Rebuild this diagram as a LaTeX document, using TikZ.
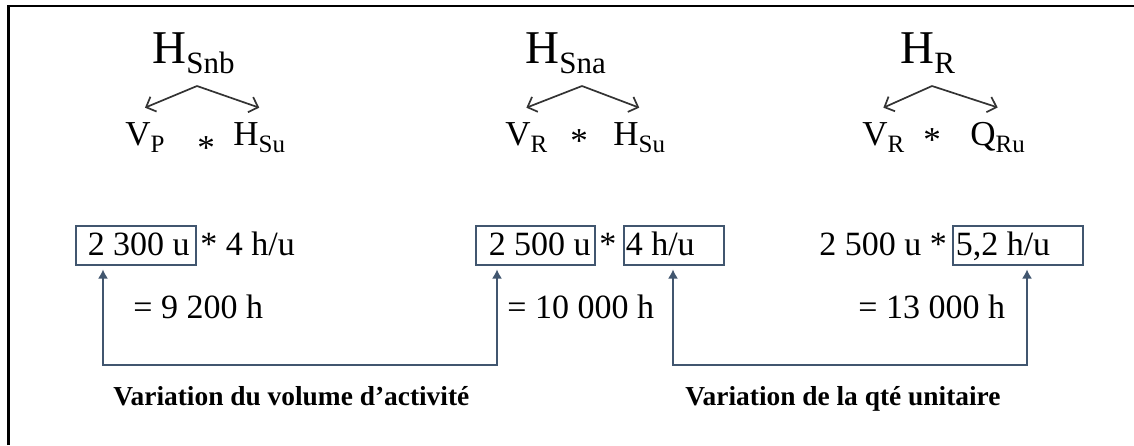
\documentclass[tikz,border=0pt]{standalone}
\usepackage{fontspec}
\setmainfont{Liberation Serif}
\usetikzlibrary{arrows.meta}

\definecolor{slate}{HTML}{41566F}
\definecolor{forkgray}{HTML}{333333}
\newcommand{\bigsub}[1]{\raisebox{-5pt}{\fontsize{15.5pt}{18pt}\selectfont #1}}
\newcommand{\midsub}[1]{\raisebox{-3.5pt}{\fontsize{12.5pt}{15pt}\selectfont #1}}
\newcommand{\boxed}[3]{\makebox[#1][l]{\hspace*{#2}#3}}

\begin{document}
\begin{tikzpicture}[
		x=0.5pt,
		y=-0.5pt,
		total/.style={font=\fontsize{23.5pt}{28pt}\selectfont,inner sep=0pt,anchor=base west},
		factor/.style={font=\fontsize{17.5pt}{21pt}\selectfont,inner sep=0pt,anchor=base west},
		times/.style={font=\fontsize{17.5pt}{21pt}\selectfont,inner sep=0pt,anchor=base},
		calc/.style={font=\fontsize{17pt}{20pt}\selectfont,inner sep=0pt,anchor=base west},
		box/.style={calc,draw=slate,line width=0.75pt,anchor=north west,minimum height=19.5pt,text height=10.5pt,text depth=0pt},
		caption/.style={font=\fontsize{13.7pt}{16pt}\selectfont\bfseries,inner sep=0pt,anchor=base west},
		fork/.style={-{Straight Barb[length=4pt,width=8pt]},draw=forkgray,line width=0.85pt},
		link/.style={{Latex[length=4.5pt,width=5pt]}-{Latex[length=4.5pt,width=5pt]},draw=slate,line width=0.75pt,shorten <=2pt,shorten >=2pt}
		]
		
		\useasboundingbox (0,0) rectangle (1134,445);
		
		% =====================================================
		% Frame
		% =====================================================
		\draw[line width=1.1pt] (8.5,445) -- (8.5,6) -- (1134,6);
		
		% =====================================================
		% Decompositions
		% =====================================================
		\node[total] (hsnb) at (152,63) {H\bigsub{Snb}};
		\node[total] (hsna) at (525,63) {H\bigsub{Sna}};
		\node[total] (hr) at (900,63) {H\bigsub{R}};
		
		\node[factor] (vp) at (125,145) {V\midsub{P}};
		\node[times] (star1) at (206,159) {*};
		\node[factor] (hsu1) at (233,145) {H\midsub{Su}};
		
		\node[factor] (vr2) at (505,145) {V\midsub{R}};
		\node[times] (star2) at (579,152) {*};
		\node[factor] (hsu2) at (613,145) {H\midsub{Su}};
		
		\node[factor] (vr3) at (862,145) {V\midsub{R}};
		\node[times] (star3) at (932,151) {*};
		\node[factor] (qru) at (970,145) {Q\midsub{Ru}};
		
		% fork arrows
		\coordinate (fk1) at (197,86);
		\coordinate (fk2) at (582,86);
		\coordinate (fk3) at (932,86);
		
		\draw[fork] (fk1) -- ([yshift=7pt]vp.north);
		\draw[fork] (fk1) -- ([yshift=7pt]hsu1.north);
		\draw[fork] (fk2) -- ([yshift=7pt]vr2.north);
		\draw[fork] (fk2) -- ([yshift=7pt]hsu2.north);
		\draw[fork] (fk3) -- ([yshift=7pt]vr3.north);
		\draw[fork] (fk3) -- ([yshift=7pt]qru.north);
		
		% =====================================================
		% Figures
		% =====================================================
		\node[box] (box1) at (75,225) {\boxed{60pt}{6pt}{2 300 u}};
		\node[calc] (rest1) at (200,255) {* 4 h/u};
		
		\node[box] (box2) at (475,225) {\boxed{59.5pt}{6.5pt}{2 500 u}};
		\node[calc] (star4) at (599,255) {*};
		\node[box] (box3) at (623,225) {\boxed{50pt}{1pt}{4 h/u}};
		
		\node[calc] (rest3) at (819,255) {2 500 u *};
		\node[box] (box4) at (952,225) {\boxed{65pt}{1.5pt}{5,2 h/u}};
		
		\node[calc] (res1) at (133,318) {= 9 200 h};
		\node[calc] (res2) at (507,318) {= 10 000 h};
		\node[calc] (res3) at (858,318) {= 13 000 h};
		
		% =====================================================
		% Variations
		% =====================================================
		\coordinate (low1) at (300,365);
		\coordinate (low2) at (850,365);
		
		\draw[link] ([xshift=14pt]box1.south west) |- (low1) -| ([xshift=11pt]box2.south west);
		\draw[link] ([xshift=25pt]box3.south west) |- (low2) -| ([xshift=37.5pt]box4.south west);
		
		\node[caption] (lab1) at (113,405) {Variation du volume d’activité};
		\node[caption] (lab2) at (685,405) {Variation de la qté unitaire};
		
	\end{tikzpicture}
\end{document}
